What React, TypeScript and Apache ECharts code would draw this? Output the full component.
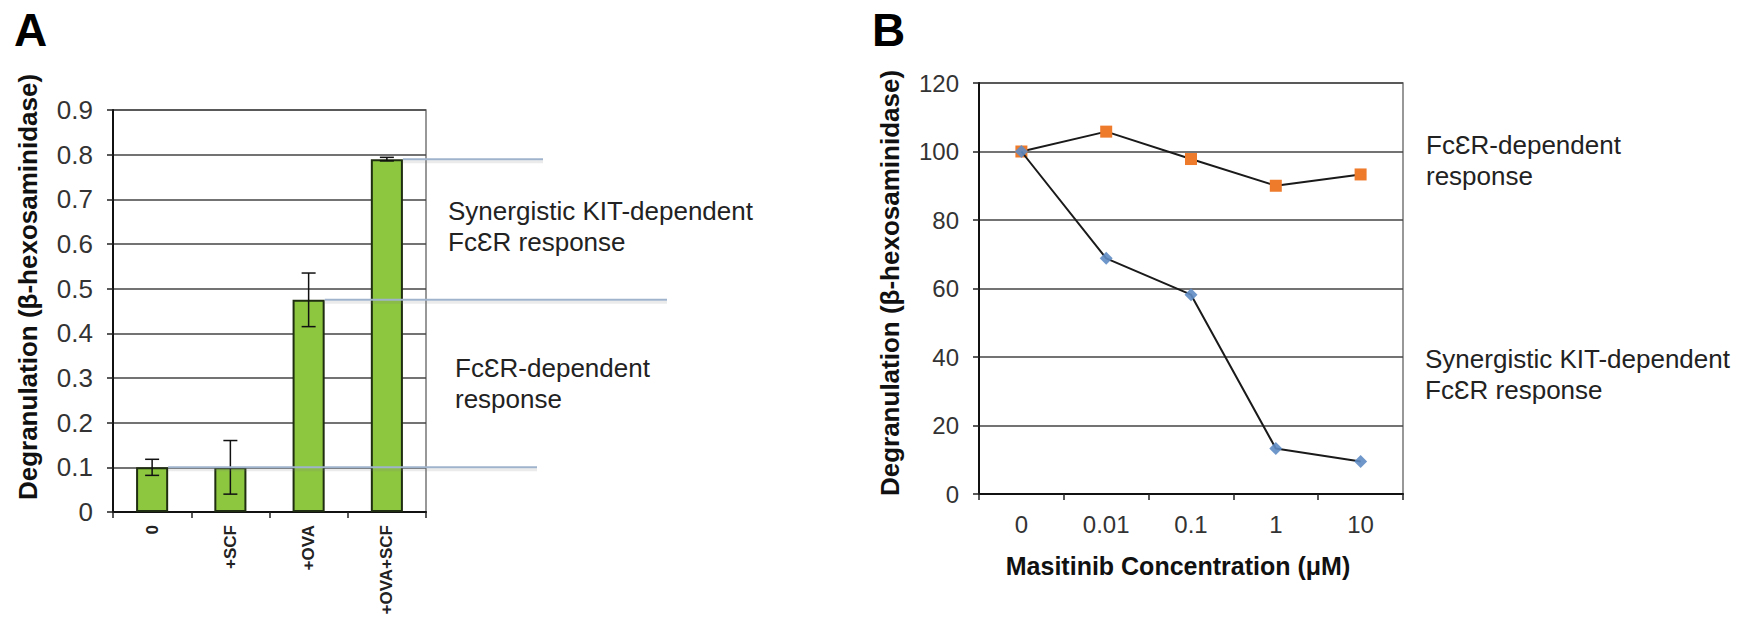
import React, { useEffect, useRef } from "react";
import * as echarts from "echarts";

// Panel A data
const catsA = ["0", "+SCF", "+OVA", "+OVA+SCF"];
const meanA = [0.1, 0.1, 0.475, 0.79];
const errA = [0.018, 0.06, 0.06, 0.004];
const ticksA = [0, 0.1, 0.2, 0.3, 0.4, 0.5, 0.6, 0.7, 0.8, 0.9];

// Panel B data
const catsB = ["0", "0.01", "0.1", "1", "10"];
const fcerB = [100, 105.8, 97.8, 90, 93.3];
const kitB = [100, 68.8, 58.2, 13.3, 9.5];

const FONT = "'Liberation Sans', Arial, Helvetica, sans-serif";
const LABEL_A_TOP = "Synergistic KIT-dependent\nFc\u0190R response";
const LABEL_DEP = "Fc\u0190R-dependent\nresponse";
const YNAME = "Degranulation (\u03b2-hexosaminidase)";
const XNAME_B = "Masitinib Concentration (\u03bcM)";

export default function App() {
  const ref = useRef<HTMLDivElement>(null);
  useEffect(() => {
    if (!ref.current) return;
    const chart = echarts.init(ref.current, undefined, { renderer: "svg" });
    const gridLine = { show: true, lineStyle: { color: "#444", width: 1.6 } };
    const axisLine = { show: true, lineStyle: { color: "#111", width: 2 } };
    const tick = { show: true, length: 6, lineStyle: { color: "#222", width: 1.5 } };
    chart.setOption({
      animation: false,
      backgroundColor: "#fff",
      grid: [
        { left: 113, top: 110, width: 313, height: 402, show: true, borderColor: "#777", borderWidth: 1.5, backgroundColor: "transparent", containLabel: false, outerBoundsMode: "none" },
        { left: 979, top: 83, width: 424, height: 411, show: true, borderColor: "#777", borderWidth: 1.5, backgroundColor: "transparent", containLabel: false, outerBoundsMode: "none" },
      ],
      xAxis: [
        {
          type: "category", gridIndex: 0, data: catsA,
          axisLine, axisTick: tick,
          axisLabel: { rotate: 90, margin: 13, fontFamily: FONT, fontWeight: "bold", fontSize: 17, color: "#222" },
          splitLine: { show: false },
        },
        {
          type: "category", gridIndex: 1, data: catsB,
          axisLine, axisTick: tick,
          axisLabel: { margin: 18, fontFamily: FONT, fontSize: 24, color: "#333" },
          splitLine: { show: false },
        },
      ],
      yAxis: [
        {
          type: "value", gridIndex: 0, min: 0, max: 0.9, interval: 0.1,
          axisLine, axisTick: tick, splitLine: gridLine,
          axisLabel: {
            margin: 20, fontFamily: FONT, fontSize: 26, color: "#333",
            formatter: (v: number) => {
              const t = ticksA.find((x) => Math.abs(x - v) < 1e-9);
              return t === 0 ? "0" : (t ?? v).toFixed(1);
            },
          },
        },
        {
          type: "value", gridIndex: 1, min: 0, max: 120, interval: 20,
          axisLine, axisTick: tick, splitLine: gridLine,
          axisLabel: { margin: 20, fontFamily: FONT, fontSize: 24, color: "#333" },
        },
      ],
      series: [
        {
          type: "bar", xAxisIndex: 0, yAxisIndex: 0, data: meanA, barWidth: "41%",
          itemStyle: { color: "#8DC63F", borderColor: "#1f2d10", borderWidth: 2 },
          z: 2,
        },
        {
          type: "custom", xAxisIndex: 0, yAxisIndex: 0, z: 5,
          data: catsA.map((_, i) => [i, meanA[i] - errA[i], meanA[i] + errA[i]]),
          encode: { x: 0, y: [1, 2] },
          renderItem: (_params: any, api: any) => {
            const x = api.value(0);
            const lo = api.coord([x, api.value(1)]);
            const hi = api.coord([x, api.value(2)]);
            const w = 7;
            const st = { stroke: "#111", lineWidth: 1.5 };
            return {
              type: "group",
              children: [
                { type: "line", shape: { x1: lo[0], y1: lo[1], x2: hi[0], y2: hi[1] }, style: st },
                { type: "line", shape: { x1: hi[0] - w, y1: hi[1], x2: hi[0] + w, y2: hi[1] }, style: st },
                { type: "line", shape: { x1: lo[0] - w, y1: lo[1], x2: lo[0] + w, y2: lo[1] }, style: st },
              ],
            };
          },
        },
        {
          name: "FcER-dependent", type: "line", xAxisIndex: 1, yAxisIndex: 1, data: fcerB,
          symbol: "rect", symbolSize: 12,
          lineStyle: { color: "#1a1a1a", width: 2 },
          itemStyle: { color: "#ee7a2b" }, z: 3,
        },
        {
          name: "KIT-dependent", type: "line", xAxisIndex: 1, yAxisIndex: 1, data: kitB,
          symbol: "diamond", symbolSize: 13,
          lineStyle: { color: "#1a1a1a", width: 2 },
          itemStyle: { color: "#5f8cc4", opacity: 0.9 }, z: 4,
        },
      ],
    });

    // annotation lines for panel A, positioned from the library's scales
    const finder = { xAxisIndex: 0, yAxisIndex: 0 };
    const toPx = (i: number, v: number) => {
      const r = chart.convertToPixel(finder as any, [catsA[i], v]) as any;
      return Array.isArray(r) ? r : [NaN, NaN];
    };
    const a0 = toPx(0, 0);
    const a1 = toPx(1, 0);
    let halfBar = ((a1[0] - a0[0]) * 0.41) / 2;
    if (!isFinite(halfBar)) halfBar = 16;
    const annot = [
      { idx: 3, endX: 543 },
      { idx: 2, endX: 667 },
      { idx: 0, endX: 537 },
    ];
    const lineEls = annot.map((a) => {
      const p = toPx(a.idx, meanA[a.idx]);
      return {
        type: "line",
        z: 10,
        shape: { x1: p[0] + halfBar, y1: p[1], x2: a.endX, y2: p[1] },
        style: { stroke: "#9fb3cc", lineWidth: 2 },
      };
    });
    const shadowEls = lineEls.map((l) => ({
      type: "line",
      z: 9,
      shape: { x1: l.shape.x1, y1: l.shape.y1 + 2.5, x2: l.shape.x2, y2: l.shape.y2 + 2.5 },
      style: { stroke: "rgba(120,120,120,0.15)", lineWidth: 3 },
    }));

    const txt = (x: number, y: number, text: string, extra: any = {}) => ({
      type: "text", x, y, z: 20,
      style: { text, fontFamily: FONT, fontSize: 26, lineHeight: 31, fill: "#222", verticalAlign: "middle", align: "left", ...extra },
    });

    chart.setOption({
      graphic: {
        elements: [
          ...shadowEls,
          ...lineEls,
          txt(14, 30, "A", { fontSize: 46, fontWeight: "bold", fill: "#000", lineHeight: 46 }),
          txt(872, 30, "B", { fontSize: 46, fontWeight: "bold", fill: "#000", lineHeight: 46 }),
          txt(448, 226, LABEL_A_TOP),
          txt(455, 383, LABEL_DEP),
          txt(1426, 160.5, LABEL_DEP),
          txt(1425, 374.5, LABEL_A_TOP),
          {
            type: "text", x: 28, y: 287, rotation: Math.PI / 2, z: 20,
            style: { text: YNAME, fontFamily: FONT, fontSize: 26, fontWeight: "bold", fill: "#111", align: "center", verticalAlign: "middle" },
          },
          {
            type: "text", x: 890, y: 283, rotation: Math.PI / 2, z: 20,
            style: { text: YNAME, fontFamily: FONT, fontSize: 26, fontWeight: "bold", fill: "#111", align: "center", verticalAlign: "middle" },
          },
          {
            type: "text", x: 1178, y: 566, z: 20,
            style: { text: XNAME_B, fontFamily: FONT, fontSize: 25, fontWeight: "bold", fill: "#111", align: "center", verticalAlign: "middle" },
          },
        ],
      },
    });

    return () => chart.dispose();
  }, []);
  return (
    <div
      ref={ref}
      style={{ position: "fixed", left: 0, top: 0, width: 1752, height: 619, background: "#fff" }}
    />
  );
}
